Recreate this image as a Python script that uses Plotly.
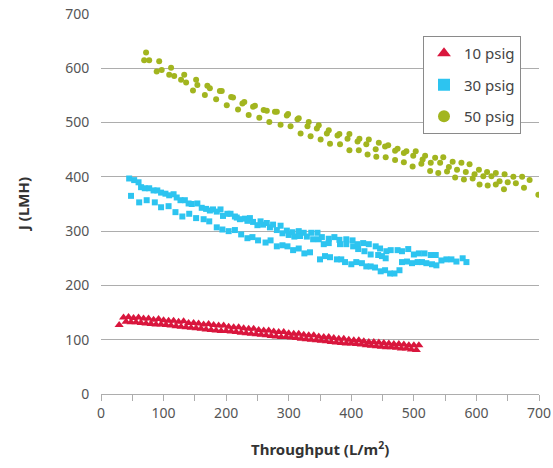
import plotly.graph_objects as go

# ---------------- data ----------------
red_x = [29, 36, 44, 52, 60, 68, 76, 84, 92, 100, 108, 116, 124, 132, 140, 148, 156, 164, 172, 180,
         188, 196, 204, 212, 220, 228, 236, 244, 252, 260, 268, 276, 284, 292, 300, 308, 316, 324,
         332, 340, 348, 356, 364, 372, 380, 388, 396, 404, 412, 420, 428, 436, 444, 452, 460, 468,
         476, 484, 492, 500, 508,
         40, 48, 56, 64, 72, 80, 88, 96, 104, 112, 120, 128, 136, 144, 152, 160, 168, 176, 184, 192,
         200, 208, 216, 224, 232, 240, 248, 256, 264, 272, 280, 288, 296, 304, 312, 320, 328, 336,
         344, 352, 360, 368, 376, 384, 392, 400, 408, 416, 424, 432, 440, 448, 456, 464, 472, 480,
         488, 496, 504]
red_y = [127, 141, 142, 140, 141, 139, 139, 137, 138, 136, 135, 135, 133, 134, 131, 131, 130, 128, 129, 127,
         126, 126, 124, 123, 123, 121, 120, 120, 118, 117, 117, 115, 114, 114, 112, 111, 111, 109,
         108, 108, 106, 105, 105, 103, 102, 102, 100, 99, 99, 97, 96, 96, 95, 94, 93, 92,
         92, 91, 90, 90, 90,
         133, 132, 132, 131, 130, 129, 128, 128, 127, 126, 125, 124, 123, 122, 121, 120, 119, 118, 117, 116,
         116, 115, 114, 113, 112, 111, 110, 109, 108, 107, 106, 105, 105, 104, 103, 102, 101, 100,
         99, 98, 97, 96, 95, 94, 93, 93, 92, 91, 90, 89, 88, 87, 86, 86, 85, 84,
         84, 82, 81]

blue_x = [45, 53, 60, 64, 70, 77, 84, 90, 96, 103, 109, 116, 121, 127, 134, 140, 145, 154, 161, 168,
          174, 179, 185, 191, 195, 202, 207, 214, 217, 222, 230, 234, 238, 243, 250, 255, 259, 265,
          270, 275, 281, 287, 290, 297, 300, 306, 309, 316, 318, 324, 329, 336, 339, 346, 348, 353,
          356, 364, 364, 373, 381, 382, 392, 392, 402, 403, 410, 411, 419, 421, 428, 431, 439, 443,
          446, 449, 455, 456, 463, 474, 481, 491, 500, 508, 517, 527, 535,
          48, 61, 73, 86, 96, 108, 119, 130, 141, 152, 164, 173, 185, 194, 204, 214, 224, 234, 242,
          251, 263, 271, 281, 290, 298, 307, 316, 325, 334, 350, 358, 366, 377, 384, 390, 400, 408,
          417, 424, 431, 438, 447, 454, 462, 469, 477, 481, 489, 497, 506, 513, 520, 529, 536, 544,
          552, 560, 568, 578, 584]
blue_y = [397, 394, 390, 381, 379, 379, 375, 375, 371, 369, 366, 368, 362, 357, 357, 351, 350, 351, 343, 341,
          338, 340, 336, 340, 328, 332, 332, 327, 325, 322, 323, 319, 324, 317, 311, 318, 312, 315,
          307, 312, 302, 310, 296, 301, 293, 298, 290, 300, 291, 297, 290, 297, 285, 297, 285, 289,
          276, 286, 278, 289, 284, 276, 285, 276, 283, 272, 276, 267, 278, 263, 276, 257, 272, 256,
          268, 254, 250, 263, 265, 265, 263, 267, 257, 259, 259, 256, 256,
          365, 353, 357, 353, 344, 346, 335, 327, 332, 324, 322, 318, 307, 303, 300, 302, 294, 287, 289,
          283, 279, 283, 272, 274, 272, 265, 268, 259, 261, 248, 254, 252, 248, 248, 243, 239, 243,
          241, 235, 235, 233, 226, 228, 222, 222, 228, 243, 244, 241, 243, 243, 241, 239, 237, 246,
          248, 248, 244, 250, 243]

green_x = [69, 72, 77, 89, 93, 97, 109, 112, 117, 128, 133, 136, 147, 152, 154, 166, 170, 174, 184, 190,
           193, 201, 208, 211, 219, 226, 229, 236, 243, 246, 253, 260, 265, 269, 278, 281, 287, 297,
           299, 303, 314, 316, 319, 330, 332, 335, 345, 348, 351, 361, 364, 366, 378, 381, 382, 394,
           397, 397, 410, 412, 413, 424, 426, 428, 439, 440, 444, 454, 455, 459, 470, 470, 474, 484,
           484, 488, 498, 499, 503, 512, 514, 518, 526, 527, 534, 539, 542, 547, 553, 556, 562, 566,
           569, 576, 580, 583, 589, 594, 597, 604, 605, 611, 617, 618, 624, 631, 631, 637, 644, 645,
           650, 659, 663, 673, 676, 685, 699]
green_y = [615, 629, 615, 594, 613, 597, 588, 601, 586, 579, 588, 574, 559, 579, 569, 551, 568, 563, 543, 558,
           558, 532, 547, 546, 524, 535, 538, 514, 529, 531, 509, 523, 522, 501, 520, 520, 496, 513,
           516, 493, 506, 508, 480, 493, 501, 475, 489, 495, 469, 480, 486, 461, 476, 479, 460, 470,
           479, 449, 465, 449, 470, 460, 441, 469, 451, 437, 463, 456, 436, 458, 448, 431, 452, 444,
           427, 447, 419, 439, 447, 424, 432, 439, 411, 426, 435, 407, 426, 436, 410, 418, 428, 399,
           413, 426, 395, 409, 423, 397, 405, 413, 386, 401, 409, 384, 401, 407, 386, 392, 377, 405,
           390, 400, 388, 400, 380, 394, 367]

series_names = ["10 psig", "30 psig", "50 psig"]
x_ticks = [0, 100, 200, 300, 400, 500, 600, 700]
y_ticks = [0, 100, 200, 300, 400, 500, 600, 700]

# ---------------- figure ----------------
RED = "#D9163D"
BLUE = "#2DC4F0"
GREEN = "#A2B51F"
GRID = "#ADADAD"
FONT = "Noto Sans"

ML, MR, MT, MB = 101, 14, 14, 74
W, H = 553, 468
plot_w = W - ML - MR
plot_h = H - MT - MB

fig = go.Figure()
fig.add_trace(go.Scatter(x=red_x, y=red_y, mode="markers", name=series_names[0], legendgroup="a",
                         marker=dict(symbol="triangle-up", size=8, color=RED)))
fig.add_trace(go.Scatter(x=blue_x, y=blue_y, mode="markers", name=series_names[1], legendgroup="b",
                         marker=dict(symbol="square", size=6, color=BLUE)))
fig.add_trace(go.Scatter(x=green_x, y=green_y, mode="markers", name=series_names[2], legendgroup="c",
                         marker=dict(symbol="circle", size=6, color=GREEN)))

fig.update_layout(
    width=W, height=H,
    margin=dict(l=ML, r=MR, t=MT, b=MB, autoexpand=False),
    paper_bgcolor="white", plot_bgcolor="white",
    font=dict(family=FONT, size=14, color="#555555"),
    showlegend=True,
    legend=dict(x=(423 - ML) / plot_w, y=(394 - 36) / plot_h, xanchor="left", yanchor="top",
                bordercolor="#8a8a8a", borderwidth=1, bgcolor="white",
                font=dict(size=15, color="#444444"), itemsizing="constant",
                tracegroupgap=9),
    xaxis=dict(range=[0, 700], tickvals=x_ticks, showgrid=False, zeroline=False,
               showline=True, linecolor=GRID, linewidth=1, automargin=False,
               ticks="outside", ticklen=6, tickcolor=GRID,
               minor=dict(dtick=50, ticks="outside", ticklen=6, tickcolor=GRID),
               tickfont=dict(size=14, color="#555555")),
    yaxis=dict(range=[0, 700], tickvals=y_ticks, showgrid=True, gridcolor=GRID, gridwidth=1,
               zeroline=False, showline=False, ticks="outside", ticklen=8, automargin=False,
               tickcolor="rgba(0,0,0,0)", tickfont=dict(size=14, color="#555555")),
    annotations=[
        dict(text="<b>J (LMH)</b>", x=(23 - ML) / plot_w, y=(394 - 205) / plot_h,
             xref="paper", yref="paper", showarrow=False, xanchor="center", yanchor="middle",
             textangle=-90, font=dict(size=15, color="#333333")),
        dict(text="<b>Throughput (L/m<sup>2</sup>)</b>", x=(320 - ML) / plot_w, y=(394 - 448) / plot_h,
             xref="paper", yref="paper", showarrow=False, xanchor="center", yanchor="middle",
             font=dict(size=15, color="#333333")),
    ],
)

fig.write_html("out.html")
